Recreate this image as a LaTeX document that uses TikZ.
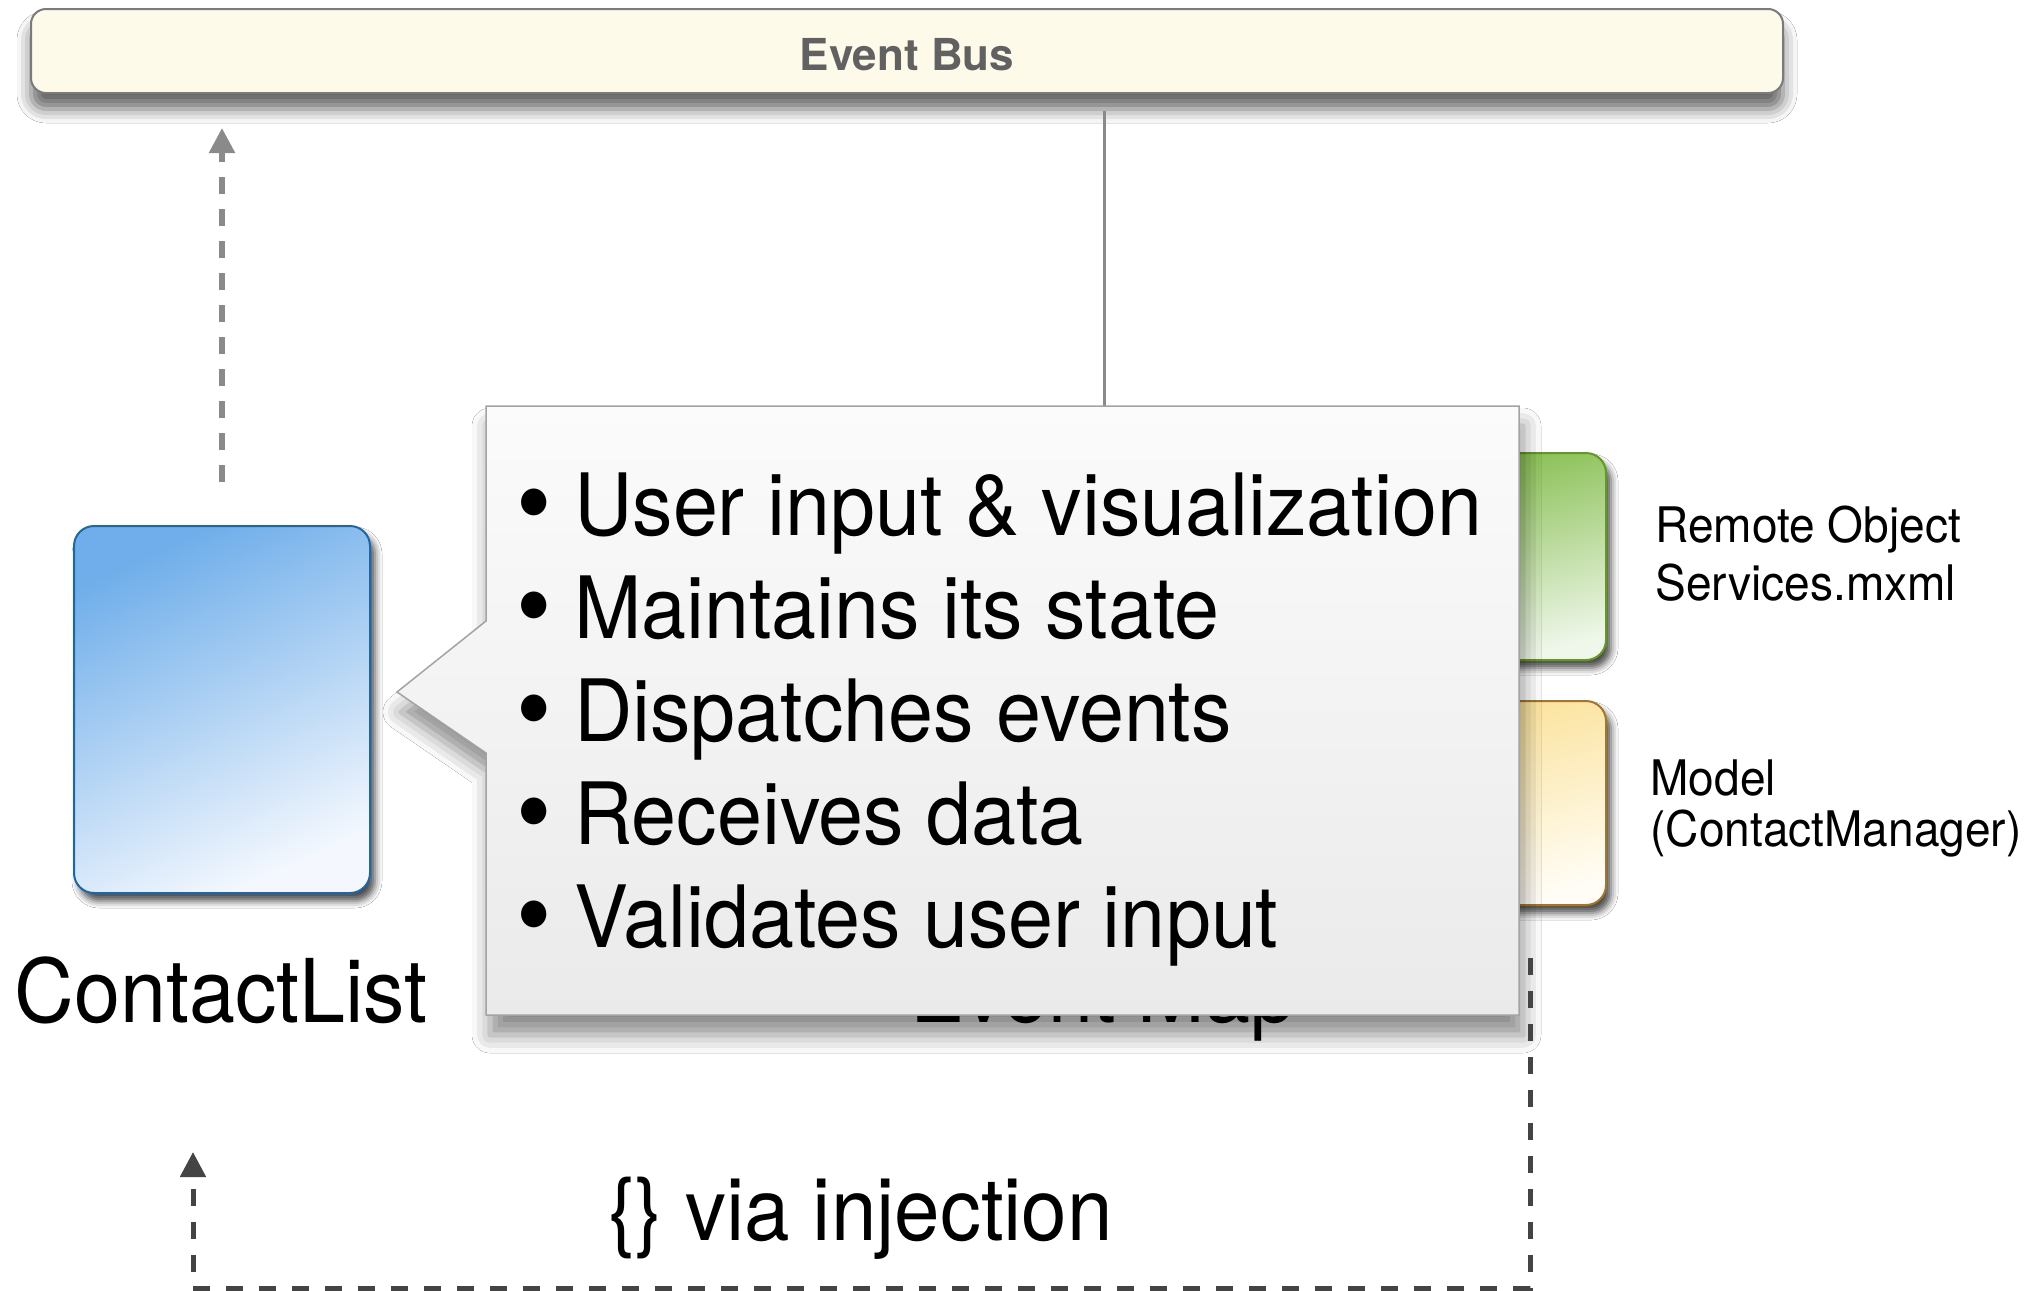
\documentclass[tikz,border=0pt]{standalone}
\usepackage{fontspec}
\setmainfont{TeX Gyre Heros}[FakeStretch=0.94]
\newfontfamily\busfont{TeX Gyre Heros}
\usetikzlibrary{arrows.meta,shadows.blur}

\definecolor{busfill}{HTML}{FEFAEA}
\definecolor{busline}{HTML}{7B7B7B}
\definecolor{bustext}{HTML}{616161}
\definecolor{contactTop}{HTML}{6FAEEA}
\definecolor{contactBot}{HTML}{F4F8FE}
\definecolor{contactLine}{HTML}{1F66A6}
\definecolor{greenTop}{HTML}{82BC4A}
\definecolor{greenBot}{HTML}{EFF7EA}
\definecolor{greenLine}{HTML}{64981F}
\definecolor{yellowTop}{HTML}{FBE196}
\definecolor{yellowBot}{HTML}{FFFDF6}
\definecolor{yellowLine}{HTML}{A5752A}
\definecolor{calloutTop}{HTML}{FBFBFB}
\definecolor{calloutBot}{HTML}{EAEAEA}
\definecolor{calloutLine}{HTML}{A3A3A3}
\definecolor{lineGray}{HTML}{8A8A8A}
\definecolor{darkDash}{HTML}{444444}

\newcommand{\bigbullet}{\raisebox{-2pt}{\scalebox{1.25}{\textbullet}}}

\begin{document}
\begin{tikzpicture}[x=0.5pt,y=-0.5pt,
  boxbase/.style={draw, line width=1pt, rounded corners=10pt, inner sep=0pt},
  % shadow shifts are page offsets: a negative yshift lies below
  softshadow/.style={blur shadow={shadow xshift=2.5pt, shadow yshift=-4pt,
      shadow blur radius=3.5pt, shadow opacity=70}},
  bigtext/.style={font=\fontsize{43}{52}\selectfont, inner sep=0pt, anchor=base west},
  smalltext/.style={font=\fontsize{24.5}{29}\selectfont, inner sep=0pt, anchor=base west},
  tip/.style={-{Triangle[width=12.5pt,length=12.5pt]}},
  grayflow/.style={draw=lineGray, line width=2.7pt, dash pattern=on 8.5pt off 7.5pt, tip},
  injflow/.style={draw=darkDash, line width=2.5pt, dash pattern=on 8.5pt off 8pt, tip},
]
\useasboundingbox (0,0) rectangle (2036,1291);
\fill[white] (0,0) rectangle (2036,1291);

% event bus bar
\node[draw=busline, line width=1pt, fill=busfill, rounded corners=7.5pt,
      minimum width=876pt, minimum height=42pt, inner sep=0pt,
      blur shadow={shadow xshift=0pt, shadow yshift=-8pt, shadow blur radius=7pt, shadow opacity=60}]
  (bus) at (907,51) {};
\node[font=\busfont\bfseries\fontsize{22}{26}\selectfont, text=bustext, inner sep=0pt]
  (buslabel) at (907,55) {Event Bus};

% tap from the bus down to the event map
\coordinate (busTap) at (1104,430);
\draw[draw=lineGray, line width=1.5pt, shorten <=8.5pt] (bus.south -| busTap) -- (busTap);

% components
\node[boxbase, draw=contactLine, top color=contactTop, bottom color=contactBot,
      shading angle=25, minimum width=148pt, minimum height=183.5pt, softshadow]
  (contact) at (222,709.5) {};
\node[boxbase, draw=greenLine, top color=greenTop, bottom color=greenBot,
      shading angle=15, minimum width=118pt, minimum height=103.5pt, softshadow]
  (remote) at (1488,556.5) {};
\node[boxbase, draw=yellowLine, top color=yellowTop, bottom color=yellowBot,
      shading angle=15, minimum width=118pt, minimum height=102pt, softshadow]
  (model) at (1488,803) {};

\node[bigtext] (maplabel) at (910,1022) {Event Map};
\node[font=\fontsize{44}{52}\selectfont, inner sep=0pt, anchor=base]
  (contactlabel) at (221,1022) {ContactList};

% ContactList dispatches to the bus
\draw[grayflow, shorten <=21.5pt, shorten >=17pt] (contact.north) -- (contact.north |- bus.south);

% callout describing the view
\path[draw=calloutLine, line width=0.75pt, top color=calloutTop, bottom color=calloutBot,
      blur shadow={shadow xshift=2pt, shadow yshift=-10pt, shadow blur radius=9pt, shadow opacity=45}]
  (486,406) -- (1519,406) -- (1519,1015) -- (486,1015) -- (486,753)
  -- (397,692) -- (486,621) -- cycle;

\node[bigtext] (b1) at (516,535) {\bigbullet\ User input \& visualization};
\node[bigtext] (b2) at (516,638) {\bigbullet\ Maintains its state};
\node[bigtext] (b3) at (516,741) {\bigbullet\ Dispatches events};
\node[bigtext] (b4) at (516,844) {\bigbullet\ Receives data};
\node[bigtext] (b5) at (516,947) {\bigbullet\ Validates user input};

% side labels
\node[smalltext] (remote1) at (1655,542) {Remote Object};
\node[smalltext] (remote2) at (1655,600) {Services.mxml};
\node[smalltext] (model1) at (1650,795) {Model};
\node[smalltext] (model2) at (1650,846) {(ContactManager)};

% injection back into the ContactList
\coordinate (injFrom) at (1530,958);
\coordinate (injTo) at (193,1152);
\draw[injflow] (injFrom) -- ++(0,330) -| (injTo);
\node[font=\fontsize{43.5}{52}\selectfont, inner sep=0pt, anchor=base west]
  (injlabel) at (608,1240) {\{\} via injection};
\end{tikzpicture}
\end{document}
